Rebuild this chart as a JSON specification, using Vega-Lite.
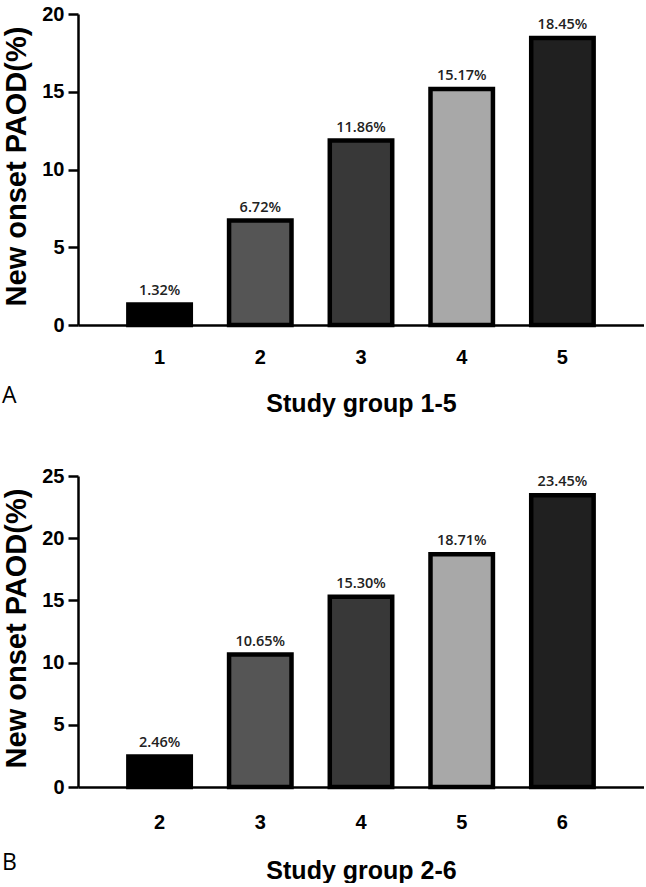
{
  "$schema": "https://vega.github.io/schema/vega-lite/v6.json",
  "padding": {"left": 1, "top": 4, "right": 0, "bottom": 0},
  "background": "white",
  "spacing": 50,
  "resolve": {"scale": {"color": "independent", "x": "independent", "y": "independent"}},
  "datasets": {
    "a": [
      {"group": "1", "value": 1.32, "label": "1.32%"},
      {"group": "2", "value": 6.72, "label": "6.72%"},
      {"group": "3", "value": 11.86, "label": "11.86%"},
      {"group": "4", "value": 15.17, "label": "15.17%"},
      {"group": "5", "value": 18.45, "label": "18.45%"}
    ],
    "b": [
      {"group": "2", "value": 2.46, "label": "2.46%"},
      {"group": "3", "value": 10.65, "label": "10.65%"},
      {"group": "4", "value": 15.30, "label": "15.30%"},
      {"group": "5", "value": 18.71, "label": "18.71%"},
      {"group": "6", "value": 23.45, "label": "23.45%"}
    ]
  },
  "config": {
    "view": {"stroke": null},
    "font": "Liberation Sans",
    "axis": {
      "domainColor": "black",
      "domainWidth": 2.5,
      "tickColor": "black",
      "tickWidth": 2.5,
      "labelFont": "Liberation Sans",
      "labelFontWeight": "bold",
      "labelFontSize": 20,
      "labelColor": "black",
      "titleFont": "Liberation Sans",
      "titleFontWeight": "bold",
      "titleColor": "black",
      "grid": false
    },
    "title": {"font": "Open Sans", "fontSize": 23, "fontWeight": "normal", "color": "black"}
  },
  "vconcat": [
    {
      "width": 566,
      "height": 311,
      "data": {"name": "a"},
      "title": {"text": "A", "orient": "bottom", "anchor": "start", "frame": "bounds", "offset": -31},
      "encoding": {
        "x": {
          "field": "group", "type": "nominal", "sort": null,
          "scale": {"paddingInner": 0.38, "paddingOuter": 0.5},
          "axis": {"title": "Study group 1-5", "labelAngle": 0, "ticks": false, "labelPadding": 22, "titlePadding": 24, "titleFontSize": 25}
        },
        "y": {
          "field": "value", "type": "quantitative",
          "scale": {"domain": [0, 20], "nice": false},
          "axis": {"title": "New onset PAOD(%)", "values": [0, 5, 10, 15, 20], "tickSize": 10, "labelPadding": 4, "titleFontSize": 29, "titleX": -47, "titleY": 152}
        }
      },
      "layer": [
        {
          "mark": {"type": "bar", "stroke": "black", "strokeWidth": 4.5},
          "encoding": {
            "color": {"field": "group", "type": "nominal", "legend": null,
              "scale": {"domain": ["1", "2", "3", "4", "5"], "range": ["#000000", "#555555", "#383838", "#a8a8a8", "#202020"]}}
          }
        },
        {
          "mark": {"type": "text", "font": "Open Sans", "fontSize": 14.5, "fontWeight": 600, "color": "#222222", "baseline": "alphabetic", "dy": -9},
          "encoding": {"text": {"field": "label"}}
        }
      ]
    },
    {
      "width": 566,
      "height": 311,
      "data": {"name": "b"},
      "title": {"text": "B", "orient": "bottom", "anchor": "start", "frame": "bounds", "offset": -31},
      "encoding": {
        "x": {
          "field": "group", "type": "nominal", "sort": null,
          "scale": {"paddingInner": 0.38, "paddingOuter": 0.5},
          "axis": {"title": "Study group 2-6", "labelAngle": 0, "ticks": false, "labelPadding": 25, "titlePadding": 26, "titleFontSize": 25}
        },
        "y": {
          "field": "value", "type": "quantitative",
          "scale": {"domain": [0, 25], "nice": false},
          "axis": {"title": "New onset PAOD(%)", "values": [0, 5, 10, 15, 20, 25], "tickSize": 10, "labelPadding": 4, "titleFontSize": 29, "titleX": -47, "titleY": 152}
        }
      },
      "layer": [
        {
          "mark": {"type": "bar", "stroke": "black", "strokeWidth": 4.5},
          "encoding": {
            "color": {"field": "group", "type": "nominal", "legend": null,
              "scale": {"domain": ["2", "3", "4", "5", "6"], "range": ["#000000", "#555555", "#383838", "#a8a8a8", "#202020"]}}
          }
        },
        {
          "mark": {"type": "text", "font": "Open Sans", "fontSize": 14.5, "fontWeight": 600, "color": "#222222", "baseline": "alphabetic", "dy": -9},
          "encoding": {"text": {"field": "label"}}
        }
      ]
    }
  ]
}
